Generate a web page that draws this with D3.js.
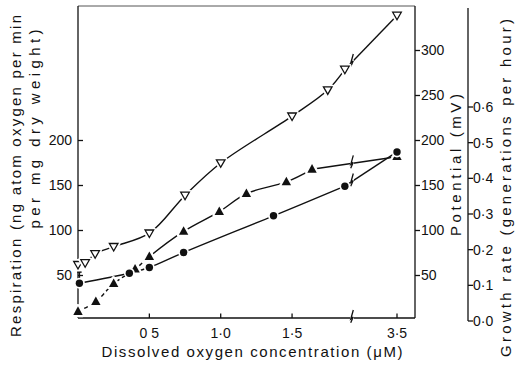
<!DOCTYPE html>
<html>
<head>
<meta charset="utf-8">
<script src="https://cdn.jsdelivr.net/npm/d3@7"></script>
<style>
  body { margin: 0; background: #fff; }
  svg { display: block; }
  text { font-family: "Liberation Sans", Arial, Helvetica, sans-serif; fill: #111; }
</style>
</head>
<body>
<svg id="chart" width="515" height="368"></svg>
<script>
// Potential (mV) against dissolved oxygen (µM)
const oxygenPotential = [0.0, 0.05, 0.12, 0.25, 0.5, 0.75, 1.0, 1.5, 1.75, 1.87, 3.5];
const potential       = [62, 64, 74, 82, 97, 139, 175, 227, 256, 279, 339];

// Respiration (ng atom O per min per mg dry weight)
const oxygenRespiration = [0.0, 0.125, 0.25, 0.4, 0.5, 0.74, 0.99, 1.18, 1.46, 1.64, 3.5];
const respiration       = [10, 21, 41, 57, 71, 99, 121, 141, 154, 168, 182];

// Growth rate (generations per hour)
const oxygenGrowth = [0.01, 0.36, 0.5, 0.74, 1.37, 1.87, 3.5];
const growthRate   = [0.106, 0.134, 0.150, 0.192, 0.295, 0.378, 0.474];
const growthErrorTop = [0.137, null, null, null, null, null, null];

// Axis ticks and labels
const xTicks = [0.5, 1.0, 1.5, 3.5];
const xTickLabels = ["0 5", "1·0", "1·5", "3·5"];
const respirationTicks = [50, 100, 150, 200];
const potentialTicks = [50, 100, 150, 200, 250, 300];
const growthTicks = [0, 0.1, 0.2, 0.3, 0.4, 0.5, 0.6];
const growthTickLabels = ["0·0", "0·1", "0·2", "0·3", "0·4", "0·5", "0·6"];

// Where the oxygen axis is broken
const xBreakStart = 1.92, xBreakEnd = 3.185;

const svg = d3.select("#chart");
const plotL = 78, plotR = 415, plotT = 6, plotB = 318, growthAxisX = 468;
const ink = "#111";

const x = d3.scaleLinear().domain([0, xBreakStart, xBreakEnd, 3.5]).range([plotL, 352, 352, 397]);
const y = d3.scaleLinear().domain([0, 300]).range([320.5, 50.5]);      // respiration & potential
const yG = d3.scaleLinear().domain([0, 0.6]).range([321, 107]);        // growth rate

const axes = svg.append("g").attr("stroke", ink).attr("stroke-width", 1.3).attr("fill", "none");

// frame
axes.append("line").attr("x1", plotL).attr("x2", plotR).attr("y1", plotT).attr("y2", plotT).attr("stroke", "#555").attr("stroke-width", 1);
axes.append("line").attr("x1", plotL).attr("x2", plotL).attr("y1", plotT).attr("y2", plotB);
axes.append("line").attr("x1", plotR).attr("x2", plotR).attr("y1", plotT).attr("y2", plotB);
axes.append("line").attr("x1", plotL).attr("x2", plotR).attr("y1", plotB).attr("y2", plotB);

// left ticks (inside)
respirationTicks.forEach(v => {
  axes.append("line").attr("x1", plotL).attr("x2", plotL + 5).attr("y1", y(v)).attr("y2", y(v));
  svg.append("text").attr("x", 72).attr("y", y(v)).attr("dy", "0.35em").attr("text-anchor", "end")
    .attr("font-size", 14).text(v);
});

// right potential ticks (outside)
potentialTicks.forEach(v => {
  axes.append("line").attr("x1", plotR).attr("x2", plotR + 5).attr("y1", y(v)).attr("y2", y(v));
  svg.append("text").attr("x", 421).attr("y", y(v)).attr("dy", "0.35em").attr("font-size", 14).text(v);
});

// growth-rate axis
axes.append("line").attr("x1", growthAxisX).attr("x2", growthAxisX).attr("y1", 8).attr("y2", yG(0));
growthTicks.forEach((v, i) => {
  axes.append("line").attr("x1", growthAxisX).attr("x2", growthAxisX + 5).attr("y1", yG(v)).attr("y2", yG(v));
  svg.append("text").attr("x", growthAxisX + 5).attr("y", yG(v)).attr("dy", "0.35em").attr("font-size", 14)
    .text(growthTickLabels[i]);
});

// x ticks (inside)
xTicks.forEach((v, i) => {
  axes.append("line").attr("x1", x(v)).attr("x2", x(v)).attr("y1", plotB).attr("y2", plotB - 4.5);
  svg.append("text").attr("x", x(v)).attr("y", 338).attr("text-anchor", "middle").attr("font-size", 14)
    .text(xTickLabels[i]);
});

// break mark
function breakMark(g, bx, by, amp) {
  g.append("rect").attr("x", bx - 1.8).attr("y", by - 2.5).attr("width", 3.6).attr("height", 5)
    .attr("fill", "#fff").attr("stroke", "none");
  g.append("path")
    .attr("d", `M${bx + 1.3},${by - amp} L${bx - 1.2},${by + 1} L${bx + 1.2},${by - 1} L${bx - 1.3},${by + amp * 0.6}`)
    .attr("fill", "none").attr("stroke", ink).attr("stroke-width", 1.3);
}
breakMark(axes, x(xBreakStart), plotB, 8);

// axis titles
svg.append("text").attr("transform", "translate(21,176) rotate(-90)").attr("text-anchor", "middle")
  .attr("font-size", 15).attr("textLength", 322).attr("lengthAdjust", "spacing")
  .text("Respiration (ng atom oxygen per min");
svg.append("text").attr("transform", "translate(40,129) rotate(-90)").attr("text-anchor", "middle")
  .attr("font-size", 15).attr("textLength", 199).attr("lengthAdjust", "spacing")
  .text("per mg dry weight)");
svg.append("text").attr("transform", "translate(461,165) rotate(-90)").attr("text-anchor", "middle")
  .attr("font-size", 15).attr("textLength", 142).attr("lengthAdjust", "spacing")
  .text("Potential (mV)");
svg.append("text").attr("transform", "translate(511,188) rotate(-90)").attr("text-anchor", "middle")
  .attr("font-size", 15).attr("textLength", 338).attr("lengthAdjust", "spacing")
  .text("Growth rate (generations per hour)");
svg.append("text").attr("x", 252).attr("y", 357).attr("text-anchor", "middle")
  .attr("font-size", 15).attr("textLength", 301).attr("lengthAdjust", "spacing")
  .text("Dissolved oxygen concentration (μM)");

// series
const series = [
  { xs: oxygenPotential, vs: potential, sy: y, marker: "open" },
  { xs: oxygenRespiration, vs: respiration, sy: y, marker: "filled", dashedUntil: 0.5 },
  { xs: oxygenGrowth, vs: growthRate, sy: yG, marker: "circle", err: growthErrorTop }
];

const defs = svg.append("defs");
defs.append("clipPath").attr("id", "clipDash").append("rect")
  .attr("x", 0).attr("y", 0).attr("width", x(0.5)).attr("height", 368);
defs.append("clipPath").attr("id", "clipSolid").append("rect")
  .attr("x", x(0.5)).attr("y", 0).attr("width", 515).attr("height", 368);

const lines = svg.append("g").attr("fill", "none").attr("stroke", ink).attr("stroke-width", 1.4);

series.forEach(s => {
  const pts = s.xs.map((v, i) => [x(v), s.sy(s.vs[i])]);
  const pre = pts.filter((p, i) => s.xs[i] < xBreakStart);
  const last = pts[pts.length - 1];
  const curve = d3.line().curve(d3.curveCatmullRom.alpha(0.5))(pre);
  if (s.dashedUntil) {
    lines.append("path").attr("d", curve).attr("clip-path", "url(#clipDash)").attr("stroke-dasharray", "4,3");
    lines.append("path").attr("d", curve).attr("clip-path", "url(#clipSolid)");
  } else {
    lines.append("path").attr("d", curve);
  }
  const a = pre[pre.length - 1];
  lines.append("path").attr("d", d3.line()([a, last]));
  const bx = x(xBreakStart);
  const by = a[1] + (last[1] - a[1]) * (bx - a[0]) / (last[0] - a[0]);
  breakMark(lines, bx, by, 8);
});

// error bar on first growth point
series.forEach(s => {
  if (!s.err) return;
  s.err.forEach((e, i) => {
    if (e == null) return;
    const px = x(s.xs[i]), top1 = s.sy(e), cy = s.sy(s.vs[i]);
    lines.append("line").attr("x1", px).attr("x2", px).attr("y1", top1).attr("y2", cy);
    lines.append("line").attr("x1", px - 2.2).attr("x2", px + 2.2).attr("y1", top1).attr("y2", top1);
  });
});

// markers, each with a white halo that interrupts the lines beneath
const marks = svg.append("g");
function drawMarker(kind, px, py) {
  if (kind === "circle") {
    marks.append("circle").attr("cx", px).attr("cy", py).attr("r", 3.7)
      .attr("fill", ink).attr("stroke", "#fff").attr("stroke-width", 3.5);
    marks.append("circle").attr("cx", px).attr("cy", py).attr("r", 3.7).attr("fill", ink);
  } else if (kind === "filled") {
    const d = "M0,-5.2 L4.7,3.4 L-4.7,3.4 Z";
    marks.append("path").attr("d", d).attr("transform", `translate(${px},${py})`)
      .attr("fill", ink).attr("stroke", "#fff").attr("stroke-width", 4.5).attr("stroke-linejoin", "round");
    marks.append("path").attr("d", d).attr("transform", `translate(${px},${py})`).attr("fill", ink);
  } else {
    const d = "M-4.3,-3.2 L4.3,-3.2 L0,4.3 Z";
    marks.append("path").attr("d", d).attr("transform", `translate(${px},${py})`)
      .attr("fill", "#fff").attr("stroke", "#fff").attr("stroke-width", 5).attr("stroke-linejoin", "round");
    marks.append("path").attr("d", d).attr("transform", `translate(${px},${py})`)
      .attr("fill", "#fff").attr("stroke", ink).attr("stroke-width", 1.3);
  }
}

series.forEach(s => {
  s.xs.forEach((v, i) => drawMarker(s.marker, x(v), s.sy(s.vs[i])));
});
</script>
</body>
</html>
